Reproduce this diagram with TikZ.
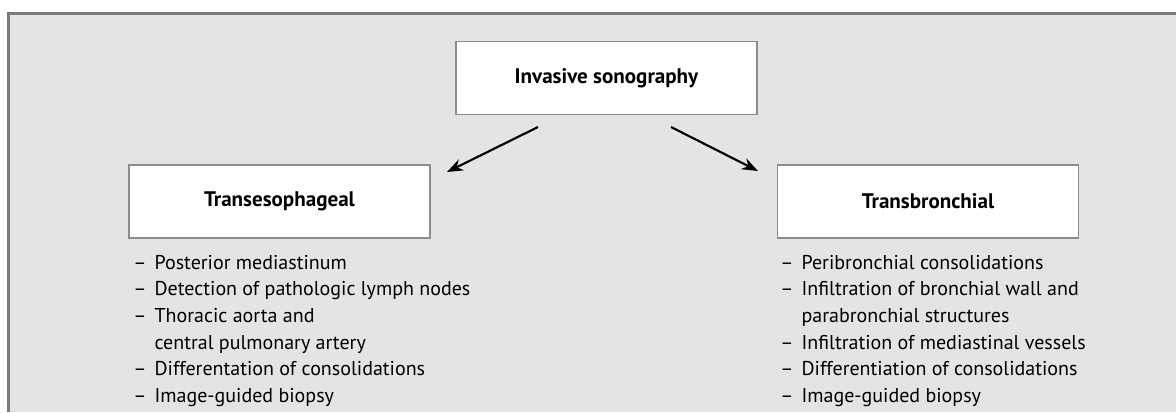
\documentclass[tikz,border=0pt]{standalone}
\usepackage{fontspec}
\usepackage{xcolor}
\usepackage{tikz}
\usetikzlibrary{arrows.meta}
\setmainfont{PT Sans}
\definecolor{panelgray}{HTML}{E4E4E4}
\definecolor{framegray}{HTML}{7A7A7A}
\definecolor{boxgray}{HTML}{8C8C8C}
\newcommand{\itm}[1]{\makebox[16pt][l]{--}#1}
\newcommand{\cnt}[1]{\hspace*{16pt}#1}

\begin{document}
\begin{tikzpicture}[
    x=0.75pt, y=-0.75pt,
    box/.style={rectangle, draw=boxgray, line width=1.2pt, fill=white,
                minimum width=226pt, minimum height=55pt,
                font=\fontsize{15.8}{18}\selectfont\bfseries},
    itemlist/.style={anchor=north west, inner sep=0pt, align=left,
                     font=\fontsize{15}{19.9}\selectfont},
    link/.style={-{Stealth[length=12pt,width=9pt]}, line width=1.6pt}
]
\useasboundingbox (0,0) rectangle (1176,412);
% panel
\fill[panelgray] (8,13) rectangle (1176,412);
\draw[framegray, line width=2.25pt] (8,412) -- (8,13) -- (1176,13);

% boxes
\node[box] (root) at (606.5,78) {Invasive sonography};
\node[box] (teso) at (279.5,201.5) {Transesophageal};
\node[box] (tbro) at (928,201.5) {Transbronchial};

% arrows
\coordinate (lstart) at (538,127);
\coordinate (lend) at (447,172);
\coordinate (rstart) at (671,127);
\coordinate (rend) at (758,171);
\draw[link] (lstart) -- (lend);
\draw[link] (rstart) -- (rend);

% lists
\node[itemlist] (tesolist) at (133,255) {%
    \itm{Posterior mediastinum}\\
    \itm{Detection of pathologic lymph nodes}\\
    \itm{Thoracic aorta and}\\
    \cnt{central pulmonary artery}\\
    \itm{Differentation of consolidations}\\
    \itm{Image-guided biopsy}};
\node[itemlist] (tbrolist) at (780,255) {%
    \itm{Peribronchial consolidations}\\
    \itm{Infiltration of bronchial wall and}\\
    \cnt{parabronchial structures}\\
    \itm{Infiltration of mediastinal vessels}\\
    \itm{Differentiation of consolidations}\\
    \itm{Image-guided biopsy}};
\end{tikzpicture}
\end{document}
